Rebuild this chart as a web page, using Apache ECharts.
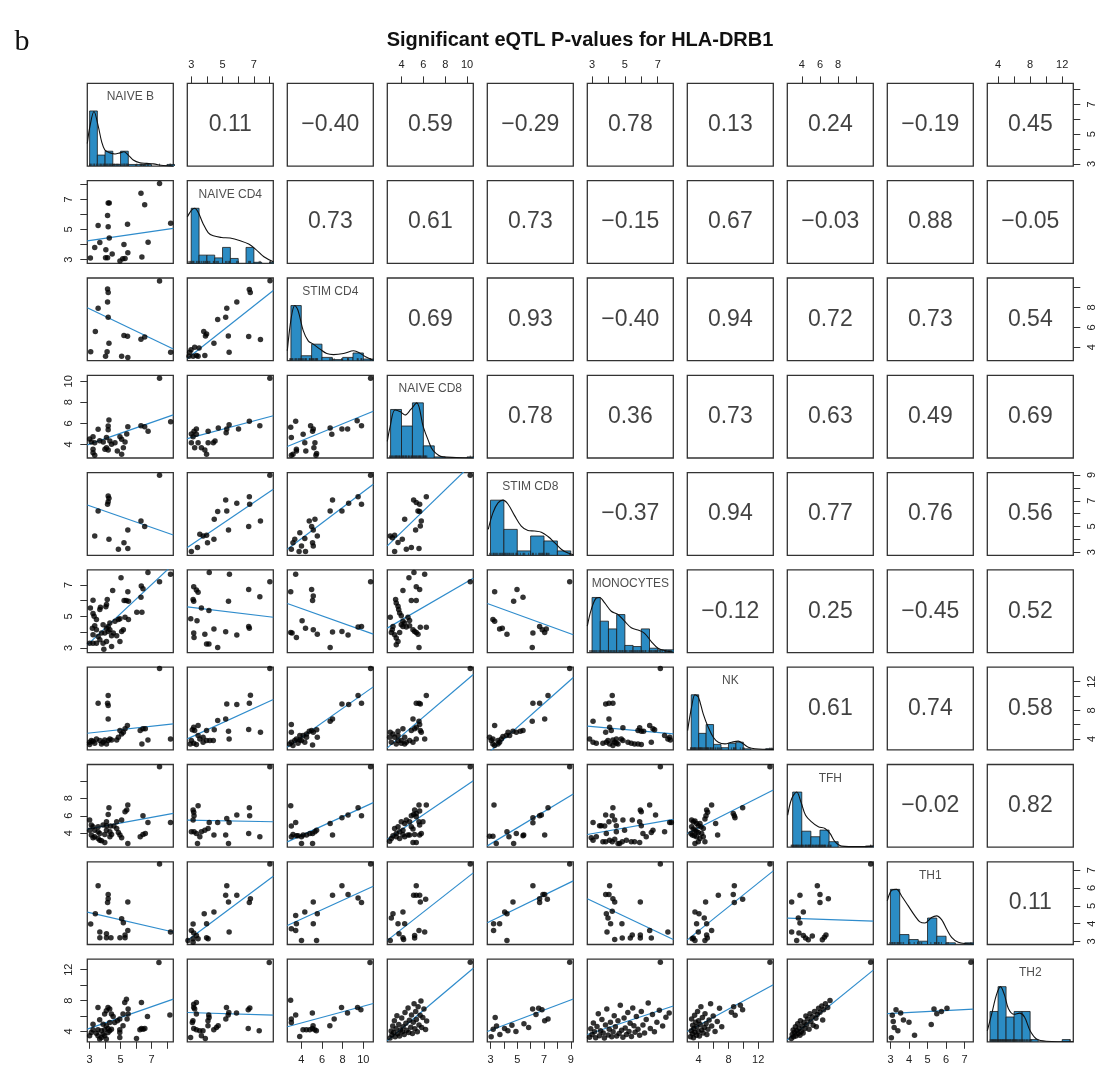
<!DOCTYPE html>
<html><head><meta charset="utf-8">
<script src="https://cdn.jsdelivr.net/npm/echarts@6/dist/echarts.min.js"></script>
<style>html,body{margin:0;padding:0;background:#fff}#c{width:1107px;height:1069px}</style>
</head><body><div id="c"></div>
<script>
const VARS = ['NAIVE B','NAIVE CD4','STIM CD4','NAIVE CD8','STIM CD8','MONOCYTES','NK','TFH','TH1','TH2'];
const AXIS_MIN = [2.85,2.75,2.65,2.70,2.76,2.71,2.47,2.41,2.83,2.66];
const AXIS_MAX = [8.41,8.24,10.96,10.57,9.19,7.95,14.03,11.86,7.47,13.38];
const TICKS = [[3,4,5,6,7,8],[3,4,5,6,7,8],[4,6,8,10],[4,6,8,10],[3,4,5,6,7,8,9],[3,4,5,6,7,8],[4,6,8,10,12],[4,6,8,10,12],[3,4,5,6,7],[4,6,8,10,12]];
const LABELS_H = [[3,5,7],[3,5,7],[4,6,8,10],[4,6,8,10],[3,5,7,9],[3,5,7],[4,8,12],[4,6,8,12],[3,4,5,6,7],[4,8,12]];
const LABELS_V = [[3,5,7],[3,5,7],[4,6,8],[4,6,8,10],[3,5,7,9],[3,5,7],[4,8,12],[4,6,8,12],[3,4,5,6,7],[4,8,12]];

// correlations, upper triangle, row by row
const CORR = [
  [0.11,-0.40,0.59,-0.29,0.78,0.13,0.24,-0.19,0.45],
  [0.73,0.61,0.73,-0.15,0.67,-0.03,0.88,-0.05],
  [0.69,0.93,-0.40,0.94,0.72,0.73,0.54],
  [0.78,0.36,0.73,0.63,0.49,0.69],
  [-0.37,0.94,0.77,0.76,0.56],
  [-0.12,0.25,-0.45,0.52],
  [0.61,0.74,0.58],
  [-0.02,0.82],
  [0.11]
];

// fitted lines of the lower panels: [y at left edge, y at right edge], one row at a time
const LINE_R2 = [[4.25,5.08]];
const LINE_R3 = [[7.97,3.83],[2.88,9.71]];
const LINE_R4 = [[3.95,6.80],[4.55,6.72],[3.80,7.15]];
const LINE_R5 = [[6.67,4.34],[3.36,7.89],[3.23,8.28],[3.49,9.97]];
const LINE_R6 = [[3.20,8.31],[5.61,4.95],[5.82,3.88],[4.26,7.42],[5.82,3.84]];
const LINE_R7 = [[4.80,6.10],[4.01,9.51],[2.84,11.28],[2.75,13.0],[1.91,12.6],[5.78,4.71]];
const LINE_R8 = [[4.48,6.27],[5.51,5.32],[3.02,7.50],[3.33,9.99],[2.56,8.49],[3.86,5.59],[3.98,8.95]];
const LINE_R9 = [[4.65,3.53],[3.06,6.66],[3.90,6.10],[3.06,6.85],[4.05,6.40],[5.40,3.11],[3.09,6.96],[4.31,4.14]];
const LINE_R10 = [[4.30,8.19],[6.46,6.12],[4.61,7.63],[2.80,12.20],[4.00,8.20],[3.60,7.30],[4.00,10.05],[2.90,11.95],[6.30,6.90]];

// histogram: first break, bin width, relative heights
const HIST_START = [3,3,3,3,3,3,3,3,3,3];
const HIST_STEP = [0.5,0.5,1,1,1,0.5,1,1,0.5,1];
const H0 = [1.0,0.20,0.27,0.03,0.27,0.03,0.03,0.03,0,0,0.03];
const H1 = [1.0,0.15,0.15,0.10,0.29,0.09,0,0.29,0.02,0,0.02];
const H2 = [1.0,0.09,0.30,0.06,0.02,0.06,0.14,0.03];
const H3 = [0.88,0.58,1.0,0.22,0.02,0,0,0.02];
const H4 = [1.0,0.47,0.08,0.35,0.26,0.08];
const H5 = [1.0,0.57,0.43,0.69,0.13,0.11,0.43,0.08,0.05,0.05];
const H6 = [1.0,0.30,0.46,0.10,0.04,0.12,0.14,0.02,0,0,0.02];
const H7 = [1.0,0.29,0.19,0.31,0.10,0,0,0,0.02];
const H8 = [1.0,0.18,0.09,0.06,0.48,0.15,0.03,0,0.03];
const H9 = [0.55,1.0,0.45,0.55,0.55,0.04,0,0,0,0.04];

// density curves (x, relative height)
const DX0 = [2.85,3.02,3.28,3.56,3.78,3.99,4.32,4.64,4.96,5.22,5.50,5.82,6.25,6.69,7.12,7.76,8.41];
const DY0 = [0.41,0.72,0.99,0.72,0.44,0.29,0.24,0.22,0.24,0.26,0.20,0.11,0.06,0.05,0.04,0.01,0.0];
const DX1 = [2.75,3.01,3.22,3.44,3.76,4.08,4.41,4.95,5.48,6.13,6.67,7.10,7.64,8.24];
const DY1 = [0.84,0.96,1.0,0.93,0.72,0.56,0.50,0.47,0.46,0.41,0.35,0.26,0.12,0.03];
const DX2 = [2.65,3.04,3.37,3.69,4.18,4.67,5.16,5.81,6.46,7.12,8.09,9.07,9.56,10.21,10.96];
const DY2 = [0.18,0.79,1.0,0.91,0.55,0.36,0.30,0.21,0.13,0.11,0.13,0.18,0.15,0.07,0.01];
const DX3 = [2.70,2.95,3.40,3.90,4.32,4.85,5.39,6.00,6.45,6.88,7.80,9.0,10.57];
const DY3 = [0.30,0.56,0.87,0.84,0.78,0.88,1.0,0.56,0.32,0.14,0.02,0.01,0.0];
const DX4 = [2.83,3.18,3.56,3.93,4.30,4.80,5.30,5.80,6.30,6.80,7.30,7.79,8.29,8.79,9.19];
const DY4 = [0.47,0.77,0.95,1.0,0.93,0.72,0.53,0.45,0.44,0.42,0.34,0.23,0.11,0.04,0.01];
const DX5 = [2.71,2.95,3.26,3.46,3.77,4.17,4.58,4.98,5.39,5.80,6.20,6.61,7.02,7.52,7.95];
const DY5 = [0.48,0.78,0.99,1.0,0.90,0.75,0.69,0.57,0.45,0.41,0.35,0.20,0.08,0.03,0.01];
const DX6 = [2.51,3.05,3.50,3.95,4.62,5.29,5.96,6.64,7.53,8.43,9.32,9.99,10.67,11.56,14.03];
const DY6 = [0.35,0.78,1.0,0.96,0.65,0.41,0.23,0.14,0.11,0.14,0.16,0.11,0.05,0.02,0.01];
const DX7 = [2.45,2.89,3.44,3.91,4.42,5.08,5.82,6.55,7.10,7.65,8.38,10.21,11.86];
const DY7 = [0.58,0.88,1.0,0.82,0.58,0.46,0.37,0.34,0.25,0.10,0.02,0.01,0.02];
const DX8 = [2.83,3.06,3.33,3.60,3.96,4.32,4.59,4.86,5.22,5.49,5.76,6.03,6.30,6.66,7.47];
const DY8 = [0.79,0.98,1.0,0.88,0.70,0.52,0.41,0.39,0.49,0.52,0.45,0.28,0.13,0.04,0.01];
const DX9 = [2.66,3.2,3.8,4.3,4.8,5.3,6.0,6.7,7.3,8.0,8.8,10,13.38];
const DY9 = [0.2,0.5,0.85,1.0,0.85,0.6,0.5,0.52,0.45,0.2,0.05,0.01,0];

// scatter panels: P<row>_<col>, x = column variable, y = row variable
const P2_1 = [[7.52,8.06],[6.32,7.41],[6.56,6.65],[4.20,6.76],[4.27,6.76],[4.16,5.93],[3.55,5.26],[4.20,5.19],[5.45,5.35],[8.24,5.42],[4.27,4.43],[3.66,4.14],[3.33,3.80],[6.78,4.16],[5.22,4.01],[4.05,3.65],[3.05,3.11],[4.03,3.13],[4.16,3.13],[4.46,3.38],[5.47,3.45],[4.96,2.91],[5.14,3.06],[5.29,3.08],[6.38,3.18]];
const P3_1 = [[7.52,10.66],[4.16,9.85],[4.20,9.51],[4.16,8.54],[3.55,7.93],[4.20,7.02],[3.37,5.58],[5.22,5.18],[5.45,5.11],[6.32,4.80],[6.56,5.04],[4.25,4.40],[3.07,3.56],[4.13,3.56],[4.03,3.09],[5.07,3.09],[5.47,2.98],[8.24,3.49]];
const P3_2 = [[8.03,10.69],[6.71,9.81],[6.77,9.51],[5.91,8.54],[5.27,7.93],[5.20,7.02],[4.69,6.79],[3.80,5.58],[3.98,5.34],[3.91,5.14],[5.37,5.14],[4.45,4.40],[6.67,5.07],[7.42,4.77],[5.42,3.49],[2.99,3.76],[3.22,4.00],[2.90,3.49],[3.50,3.93],[3.33,3.16],[3.12,3.09],[3.44,3.09],[3.87,3.16],[2.86,3.09]];
const P4_1 = [[7.52,10.29],[8.24,6.16],[4.25,6.32],[3.55,5.43],[4.20,5.75],[4.20,5.40],[5.47,5.68],[6.32,5.78],[6.56,5.68],[6.78,5.24],[3.22,4.73],[3.11,4.23],[3.33,4.16],[4.31,4.32],[4.09,4.64],[5.07,4.48],[5.29,4.23],[4.96,4.73],[3.22,3.53],[4.09,3.68],[4.42,4.00],[4.79,3.37],[5.07,3.05],[3.22,3.21],[3.33,2.95],[4.64,4.16],[3.88,4.23],[3.99,3.53],[4.20,3.46],[5.18,3.68],[3.00,4.50],[3.65,4.35],[5.40,4.98]];
const P4_2 = [[8.02,10.28],[6.71,6.19],[7.38,5.78],[6.02,5.46],[5.42,5.87],[5.27,5.46],[4.73,5.56],[4.08,5.24],[3.18,5.24],[3.33,5.46],[3.01,4.98],[3.12,4.73],[3.33,4.95],[3.01,4.16],[3.44,4.16],[3.65,3.68],[3.87,3.46],[3.98,3.05],[4.08,4.16],[4.41,4.16],[4.52,4.32],[5.23,5.11],[3.22,3.68]];
const P4_3 = [[10.70,10.28],[3.46,6.19],[2.98,5.62],[4.90,5.78],[5.16,5.46],[5.09,5.24],[6.79,5.56],[7.93,5.46],[8.48,5.46],[9.40,6.25],[9.82,5.78],[3.04,4.64],[4.18,4.95],[3.53,3.53],[3.20,3.05],[3.04,2.95],[3.53,3.37],[4.44,3.37],[5.32,4.16],[5.22,3.68],[5.48,3.14],[5.42,2.95],[6.95,4.95],[4.34,4.16]];
const P5_1 = [[7.52,8.98],[4.20,7.38],[4.25,7.19],[4.20,6.93],[4.16,6.73],[3.55,6.21],[3.33,4.26],[4.25,4.01],[4.86,3.23],[5.22,3.74],[5.47,3.28],[5.47,4.73],[6.32,5.43],[6.56,4.99]];
const P5_2 = [[8.02,8.98],[6.71,7.32],[6.73,6.73],[5.91,6.80],[5.20,7.06],[5.27,6.21],[4.69,6.16],[4.47,5.56],[5.38,4.73],[6.67,4.99],[7.42,5.43],[4.45,4.01],[3.55,4.39],[3.76,4.26],[3.98,4.32],[4.04,3.74],[3.40,3.36],[3.01,3.05]];
const P5_3 = [[10.70,8.98],[7.02,7.06],[6.79,6.21],[7.93,6.21],[8.58,6.80],[9.49,7.32],[9.82,6.73],[4.77,5.43],[5.32,5.56],[5.00,4.99],[5.16,4.73],[5.55,4.26],[3.86,4.52],[3.37,4.01],[3.20,3.74],[3.04,3.23],[3.79,3.05],[4.41,3.05],[4.02,3.49],[5.16,3.49],[5.09,3.74],[4.34,4.06]];
const P5_4 = [[10.29,8.98],[5.11,7.06],[5.35,6.86],[5.66,6.73],[6.27,7.32],[5.51,6.21],[5.66,6.16],[5.81,5.43],[5.72,5.04],[5.29,4.73],[4.29,5.56],[2.97,4.26],[3.16,4.13],[3.37,4.32],[3.68,3.75],[4.07,4.00],[4.44,3.23],[4.90,3.36],[5.60,3.28],[3.37,3.05]];
const P6_1 = [[6.77,7.78],[8.23,7.67],[5.03,7.46],[7.52,7.20],[6.34,6.93],[6.45,6.76],[4.49,6.65],[5.47,6.57],[4.14,6.08],[3.22,6.03],[5.23,6.01],[5.36,6.01],[5.51,5.97],[6.32,6.22],[3.05,5.54],[3.70,5.59],[4.05,5.61],[4.09,5.76],[3.66,5.44],[3.22,5.18],[3.29,5.01],[6.05,5.27],[6.38,5.27],[5.29,4.95],[4.96,4.86],[4.86,4.80],[3.44,4.80],[4.64,4.69],[5.18,4.16],[5.07,4.05],[3.18,4.26],[3.33,4.41],[3.44,4.16],[3.87,4.48],[4.09,4.26],[4.20,4.37],[4.31,4.58],[3.77,3.95],[3.98,3.95],[4.20,4.05],[4.42,3.78],[4.75,3.78],[4.96,3.41],[3.22,3.31],[3.44,3.31],[3.87,3.31],[4.09,3.41],[3.92,2.92],[4.42,3.09],[3.66,3.52],[3.00,3.31],[3.55,3.73],[3.22,3.84],[4.31,4.16],[4.53,3.95],[5.51,4.80]];
const P6_2 = [[4.15,7.78],[5.44,7.67],[8.02,7.20],[3.16,6.89],[3.33,6.67],[3.44,6.54],[3.12,6.08],[3.16,5.97],[3.65,5.54],[4.13,5.37],[5.38,5.97],[6.67,6.71],[7.38,6.25],[2.97,4.86],[3.37,4.73],[3.16,3.95],[3.18,3.67],[3.87,3.88],[4.45,4.20],[3.98,3.26],[4.13,3.26],[4.69,3.03],[5.20,4.03],[5.91,3.82],[6.67,4.37],[6.71,4.26]];
const P6_3 = [[3.46,7.67],[2.98,6.57],[5.00,6.71],[5.16,6.29],[5.09,6.01],[10.70,7.20],[4.08,4.73],[4.41,4.26],[2.98,3.99],[3.11,3.95],[3.53,3.67],[5.16,4.16],[5.55,3.88],[7.02,4.01],[7.93,4.05],[8.52,3.82],[6.79,3.03],[9.49,4.33],[9.82,4.37]];
const P6_4 = [[5.14,7.78],[4.68,7.46],[6.12,7.67],[5.35,6.88],[5.66,6.71],[4.13,6.65],[5.35,6.01],[4.90,6.01],[3.46,6.08],[3.52,5.86],[3.68,5.65],[3.74,5.44],[3.83,5.22],[3.98,5.05],[2.97,4.95],[4.59,4.95],[4.74,4.75],[4.29,4.58],[3.98,4.48],[4.13,4.37],[4.44,4.33],[4.74,4.41],[5.05,4.16],[5.35,3.99],[5.51,3.88],[6.27,4.31],[5.72,4.31],[3.16,4.16],[3.07,3.99],[3.37,3.84],[3.52,3.63],[3.68,3.41],[3.52,3.20],[5.60,3.03],[10.29,7.20],[3.83,3.99],[3.22,4.37],[4.13,4.69],[5.20,4.05]];
const P6_5 = [[3.31,6.57],[4.98,6.71],[4.73,5.97],[5.43,6.22],[8.92,7.20],[3.18,4.80],[3.31,4.69],[3.68,4.20],[3.88,4.26],[4.23,3.88],[6.17,3.95],[6.67,4.37],[6.87,4.16],[7.05,3.99],[7.17,4.20],[6.12,3.03]];
const P7_1 = [[7.52,13.84],[3.55,9.0],[4.20,10.07],[4.16,9.0],[4.20,8.67],[4.20,6.80],[5.44,5.87],[5.29,5.41],[5.18,4.94],[5.07,4.71],[4.86,4.24],[4.75,3.87],[6.27,5.17],[6.45,5.41],[6.60,5.41],[6.77,3.87],[8.23,4.01],[6.38,3.31],[3.00,3.54],[3.11,3.77],[3.22,3.68],[3.44,4.01],[3.66,3.77],[3.87,3.54],[4.09,3.31],[4.20,3.77],[4.31,4.01],[4.42,3.87],[3.00,3.22],[3.98,3.87],[3.77,3.31],[3.33,3.40],[4.96,5.17]];
const P7_2 = [[8.02,13.84],[6.78,10.11],[5.27,8.90],[5.91,8.81],[6.71,9.0],[5.20,6.80],[4.69,6.57],[4.47,5.27],[3.98,5.17],[3.44,5.87],[3.16,5.64],[3.07,5.27],[3.22,5.17],[3.44,4.47],[3.76,4.24],[3.98,3.77],[4.19,3.77],[4.41,3.77],[5.38,5.08],[5.42,4.01],[6.67,5.31],[7.42,4.94],[3.01,3.77],[3.16,3.40],[2.94,3.31],[3.33,3.22],[3.76,3.54],[3.55,4.01]];
const P7_3 = [[10.70,13.84],[9.49,10.07],[9.82,9.0],[7.93,8.90],[8.58,8.81],[7.02,6.80],[6.79,6.48],[5.49,5.27],[5.00,5.17],[5.16,4.94],[4.77,5.08],[4.51,4.71],[4.18,4.47],[3.86,4.47],[3.53,4.01],[3.37,3.77],[3.04,3.54],[2.88,3.31],[3.20,3.08],[3.69,3.40],[4.02,3.77],[4.51,4.24],[5.09,3.17],[5.55,4.24],[3.04,6.01],[3.04,4.94],[3.86,3.87],[4.34,3.54]];
const P7_4 = [[6.27,10.07],[5.35,9.0],[5.60,9.0],[5.72,8.90],[5.05,6.80],[5.60,6.48],[5.66,6.01],[5.35,5.64],[5.20,5.41],[4.90,5.17],[4.13,5.41],[3.68,5.08],[2.97,4.94],[3.22,4.71],[2.91,4.24],[3.37,4.24],[3.68,3.77],[3.98,3.77],[4.29,4.24],[4.44,3.54],[4.74,3.77],[5.05,3.54],[5.35,4.01],[5.72,5.17],[5.81,4.94],[6.12,4.01],[3.07,3.54],[3.52,3.31],[3.98,3.40],[4.29,3.31],[10.29,13.84],[3.68,4.47]];
const P7_5 = [[8.92,13.84],[7.30,10.07],[6.17,9.0],[6.67,9.0],[7.05,6.80],[6.12,6.48],[5.43,5.17],[5.23,5.08],[4.93,4.94],[4.68,5.08],[4.31,4.94],[4.18,4.47],[3.93,4.33],[3.81,4.01],[3.56,3.77],[3.18,4.01],[2.93,4.24],[3.31,5.87],[3.06,3.77],[3.18,3.31],[3.31,3.08],[3.56,3.31],[3.68,3.54],[4.43,4.47]];
const P7_6 = [[3.83,8.90],[4.03,9.0],[4.27,9.0],[4.23,10.07],[3.06,6.48],[4.03,6.80],[4.88,5.55],[5.90,5.55],[6.00,5.08],[6.14,5.08],[6.51,5.87],[6.71,5.41],[6.81,5.27],[5.80,5.17],[3.83,4.94],[4.07,5.64],[4.17,5.17],[2.85,4.01],[3.06,3.54],[3.26,3.40],[3.66,3.40],[3.87,3.54],[3.97,3.77],[4.27,3.87],[4.48,4.01],[4.38,3.54],[4.78,4.01],[4.88,3.77],[5.19,3.54],[5.39,3.40],[5.59,3.31],[5.80,3.31],[6.00,3.22],[6.61,3.54],[7.42,4.47],[7.62,4.01],[7.73,4.24],[7.77,3.87],[4.48,3.40],[4.58,3.31],[4.27,3.08],[4.07,3.31],[7.16,13.84]];
const P8_1 = [[7.52,11.59],[4.25,6.92],[5.47,7.23],[5.40,6.66],[5.29,6.47],[6.45,6.01],[5.07,5.51],[4.75,5.32],[4.09,5.32],[4.20,6.16],[3.55,4.74],[3.87,4.94],[4.09,4.86],[4.35,4.82],[4.57,4.82],[3.00,5.51],[3.11,4.94],[3.22,4.74],[3.33,4.36],[3.55,4.17],[3.66,3.98],[3.33,3.60],[3.55,3.40],[3.77,3.14],[3.98,2.95],[3.11,3.79],[3.22,3.48],[4.09,4.36],[4.31,4.17],[4.42,3.86],[4.86,4.09],[4.96,3.79],[5.07,3.48],[5.47,2.83],[6.27,3.60],[6.45,3.86],[6.60,3.98],[6.77,5.24],[8.23,5.24],[4.75,4.55],[3.98,3.86],[3.00,4.36],[4.31,3.60],[3.66,3.21]];
const P8_2 = [[8.02,11.59],[3.44,7.15],[3.12,6.66],[3.16,6.39],[3.18,6.01],[3.12,5.51],[4.15,5.24],[4.69,5.24],[5.27,5.70],[5.42,5.24],[5.91,6.08],[6.71,6.92],[6.73,6.01],[3.01,4.17],[3.18,4.17],[3.33,3.98],[3.55,3.60],[3.65,4.17],[3.87,4.36],[4.08,4.55],[4.45,3.79],[3.40,2.83],[5.20,3.79],[5.38,2.83],[6.67,3.98],[7.38,3.60]];
const P8_3 = [[10.70,11.59],[2.98,7.15],[3.04,4.82],[3.46,5.24],[3.53,3.71],[3.69,3.71],[4.02,3.60],[4.18,3.79],[4.51,3.79],[4.83,3.98],[5.09,3.98],[5.32,4.17],[5.48,4.36],[6.79,5.13],[7.02,3.79],[7.93,5.78],[8.52,6.08],[9.49,6.92],[9.82,6.01],[4.02,2.83],[5.09,2.83],[3.04,3.60],[3.20,3.86]];
const P8_4 = [[10.29,11.59],[6.27,7.23],[5.60,7.23],[5.20,6.66],[5.66,6.54],[5.35,6.27],[5.11,6.16],[4.90,6.01],[5.35,5.89],[5.96,5.32],[5.60,5.32],[5.66,4.94],[5.81,3.98],[5.66,3.79],[5.20,3.86],[5.05,2.95],[5.35,2.95],[4.74,3.79],[4.59,3.79],[4.29,3.60],[4.13,3.86],[3.83,4.17],[3.52,3.98],[3.22,3.71],[3.07,3.40],[2.91,3.10],[3.37,4.55],[3.68,4.74],[3.98,5.32],[4.29,5.13],[4.44,5.51],[4.74,5.32],[3.52,3.60],[3.83,3.40],[4.13,4.36],[4.90,4.74],[5.05,4.48]];
const P8_5 = [[8.92,11.59],[3.26,7.23],[2.93,3.67],[3.18,3.67],[3.43,2.83],[4.23,4.17],[4.38,3.60],[4.73,2.83],[4.93,3.98],[5.43,3.71],[5.48,3.79],[6.17,5.78],[6.17,5.20],[6.67,6.01],[6.80,6.08],[7.30,6.92],[7.05,3.79]];
const P8_6 = [[7.16,11.59],[4.27,6.92],[6.51,7.23],[5.94,6.66],[6.00,6.47],[3.83,6.08],[4.23,6.01],[3.06,5.24],[3.46,4.86],[3.56,4.86],[3.77,4.82],[4.03,5.32],[4.38,5.51],[4.48,4.86],[4.88,5.51],[5.45,5.51],[5.90,5.32],[6.00,4.86],[6.71,4.36],[6.87,6.08],[7.42,4.17],[7.73,5.24],[7.83,5.24],[2.95,3.48],[3.06,3.21],[3.26,3.60],[3.66,3.02],[3.83,3.02],[4.07,3.21],[4.23,3.02],[4.38,3.33],[4.58,2.83],[4.68,2.83],[4.84,3.02],[5.09,3.21],[5.39,3.02],[5.59,3.02],[5.90,2.95],[6.30,3.60],[6.61,4.09],[6.10,3.98],[3.87,3.98],[4.98,4.36],[4.48,4.17]];
const P8_7 = [[13.58,11.59],[5.74,7.23],[5.07,6.66],[5.20,6.39],[4.98,6.01],[6.28,5.13],[8.65,6.27],[8.79,6.01],[8.88,5.78],[9.91,6.92],[6.55,3.79],[3.05,5.51],[3.28,5.32],[3.50,5.39],[3.72,5.13],[3.95,4.86],[3.05,4.74],[3.28,4.48],[3.50,4.36],[3.72,4.17],[3.95,4.09],[2.96,3.98],[3.14,3.79],[3.41,3.71],[3.72,3.60],[4.17,3.40],[4.62,3.60],[4.84,3.02],[3.95,3.02],[3.50,2.83],[4.40,3.98],[4.62,4.55],[4.31,4.74],[4.17,5.13],[4.84,5.62]];
const P9_1 = [[7.52,7.34],[3.55,6.12],[4.20,5.63],[4.20,5.40],[4.16,5.18],[4.25,4.65],[3.37,4.56],[3.07,3.98],[3.66,3.53],[4.09,3.43],[3.66,3.21],[4.09,3.21],[4.38,3.21],[4.96,3.21],[5.29,3.21],[5.29,3.37],[5.07,4.28],[5.18,4.05],[5.47,3.62],[5.47,5.22],[8.23,3.53]];
const P9_2 = [[8.02,7.34],[5.27,6.12],[5.20,5.59],[5.91,5.59],[5.38,5.22],[6.78,5.40],[6.71,5.18],[4.45,4.65],[3.83,4.56],[3.98,3.99],[3.12,3.98],[3.01,3.62],[3.16,3.47],[3.33,3.34],[3.44,3.15],[2.79,3.06],[3.12,3.15],[5.42,3.53],[3.98,3.21],[4.08,3.15],[3.12,2.96]];
const P9_3 = [[10.70,7.34],[7.93,6.12],[7.02,5.59],[8.52,5.63],[9.49,5.44],[9.82,5.18],[5.16,5.22],[4.34,4.65],[3.46,4.46],[3.53,3.99],[3.04,3.71],[3.46,3.62],[5.16,3.99],[5.55,4.56],[4.02,3.06],[5.48,3.06]];
const P9_4 = [[10.29,7.34],[5.35,6.12],[5.11,5.59],[5.35,5.59],[5.66,5.59],[5.72,5.22],[6.21,5.37],[4.13,4.65],[3.22,4.56],[3.07,4.31],[3.68,3.99],[4.29,3.99],[2.97,3.06],[3.77,3.43],[4.13,3.21],[4.19,3.11],[5.20,3.34],[5.20,3.19],[5.60,3.62],[6.12,3.53]];
const P9_5 = [[8.92,7.34],[6.17,6.12],[4.68,5.22],[4.06,4.65],[4.23,4.56],[3.23,3.99],[3.68,3.99],[3.23,3.62],[4.23,3.06],[6.67,5.40],[6.92,5.63],[7.05,5.63],[7.25,5.37],[6.67,5.18]];
const P9_6 = [[7.16,7.34],[4.07,6.12],[3.83,5.63],[4.03,5.63],[4.27,5.40],[4.38,5.22],[4.23,4.69],[3.87,4.56],[3.97,4.31],[4.13,3.99],[3.91,3.53],[4.82,3.99],[5.94,5.22],[4.38,3.11],[4.84,3.19],[5.33,3.19],[5.45,3.37],[5.94,3.37],[5.94,3.19],[6.61,3.19],[6.51,3.62],[7.62,3.53]];
const P9_7 = [[13.58,7.34],[8.79,6.12],[8.65,5.63],[6.64,5.59],[9.91,5.37],[8.79,5.18],[4.93,5.22],[3.50,4.65],[4.04,4.56],[4.75,4.31],[3.72,3.99],[5.07,3.99],[3.95,3.53],[5.74,3.62],[5.07,3.37],[5.16,3.19],[3.28,3.19],[3.50,3.06],[3.14,3.15],[4.84,3.06]];
const P9_8 = [[11.57,7.34],[5.71,6.12],[3.80,5.59],[6.00,5.63],[6.92,5.40],[6.00,5.18],[2.89,5.22],[4.17,4.65],[3.62,4.31],[3.80,4.03],[2.89,3.53],[3.69,3.47],[4.17,3.34],[4.42,3.19],[4.72,3.09],[5.16,3.30],[6.26,3.09],[6.48,3.24],[6.66,3.37],[3.44,3.06]];
const P10_1 = [[7.48,12.95],[3.00,3.44],[3.22,4.22],[3.11,3.87],[3.22,4.95],[3.54,7.11],[3.65,5.51],[3.54,4.22],[3.43,3.78],[3.54,3.44],[3.76,3.22],[3.65,3.01],[3.87,3.65],[3.97,4.22],[4.08,4.73],[4.19,4.39],[4.30,4.09],[4.41,4.30],[4.19,3.87],[3.97,3.44],[4.08,3.01],[3.87,4.95],[3.97,6.25],[4.08,6.68],[4.19,7.11],[4.30,6.90],[4.41,6.25],[4.52,5.95],[4.62,5.17],[4.95,4.22],[4.95,3.87],[4.95,3.22],[4.80,5.38],[4.95,5.60],[5.16,6.25],[5.27,7.76],[5.38,8.19],[5.49,6.90],[5.49,6.25],[5.16,4.73],[5.42,5.60],[6.03,3.09],[6.25,4.22],[6.35,4.39],[6.46,4.30],[6.57,4.39],[6.35,7.76],[6.74,5.95],[8.19,6.12],[4.30,5.17],[3.76,4.09]];
const P10_2 = [[7.98,12.95],[3.16,7.54],[3.33,7.76],[3.16,7.11],[3.22,6.90],[3.11,5.38],[3.07,5.17],[3.33,6.25],[2.96,3.22],[3.16,4.39],[3.33,4.22],[3.54,4.09],[3.75,4.09],[3.65,3.44],[3.90,3.09],[4.07,4.73],[4.07,5.38],[4.14,5.82],[4.12,6.12],[4.44,4.22],[4.61,4.52],[4.72,4.73],[5.21,5.60],[5.25,7.11],[5.40,6.46],[5.36,6.12],[5.89,6.38],[6.64,6.81],[6.74,7.03],[6.64,4.39],[7.34,4.09]];
const P10_3 = [[10.64,12.95],[2.97,8.06],[3.04,5.60],[3.04,5.17],[3.46,6.12],[3.85,3.35],[4.17,4.22],[4.49,4.22],[4.82,4.22],[5.07,4.39],[5.07,6.38],[5.30,4.22],[5.46,4.09],[6.76,4.73],[7.18,5.60],[7.89,7.11],[8.47,6.38],[9.44,7.11],[9.76,6.81],[5.14,4.73]];
const P10_4 = [[10.29,12.97],[2.95,3.15],[3.05,4.05],[3.12,3.55],[3.20,4.70],[3.28,3.85],[3.35,5.40],[3.42,3.30],[3.50,4.35],[3.58,6.05],[3.66,3.70],[3.75,4.90],[3.82,3.40],[3.90,4.20],[4.02,5.75],[4.08,3.95],[4.15,4.60],[4.25,3.60],[4.32,6.45],[4.40,5.05],[4.48,4.15],[4.60,7.05],[4.66,3.85],[4.72,5.45],[4.85,4.55],[4.92,6.15],[5.00,3.75],[5.08,5.20],[5.15,7.60],[5.22,4.35],[5.30,6.60],[5.36,5.55],[5.45,3.95],[5.52,7.20],[5.60,4.85],[5.70,6.10],[5.78,7.95],[5.85,4.50],[5.95,5.80],[6.05,6.90],[6.20,4.25],[6.30,5.35]];
const P10_5 = [[8.92,12.97],[3.05,3.30],[3.20,4.30],[3.45,4.70],[3.70,3.60],[4.05,4.40],[4.30,4.10],[4.60,4.80],[4.90,4.00],[5.50,5.00],[6.15,6.90],[6.40,6.20],[6.60,7.00],[6.85,6.80],[7.05,5.40],[7.30,5.60],[3.35,5.80],[5.85,4.50]];
const P10_6 = [[7.16,12.97],[2.85,3.25],[2.92,4.35],[3.00,3.60],[3.08,5.10],[3.15,3.95],[3.22,3.20],[3.30,4.65],[3.38,6.30],[3.45,3.45],[3.52,4.10],[3.60,5.55],[3.68,3.80],[3.75,3.15],[3.82,4.85],[3.90,6.90],[3.98,3.55],[4.05,4.30],[4.12,5.20],[4.20,3.30],[4.28,3.95],[4.35,6.05],[4.42,4.60],[4.50,3.40],[4.58,5.40],[4.65,3.75],[4.72,7.40],[4.80,4.15],[4.88,3.25],[4.95,5.75],[5.02,4.45],[5.10,3.60],[5.18,6.45],[5.25,4.00],[5.32,5.05],[5.40,3.35],[5.48,7.05],[5.55,4.75],[5.62,3.90],[5.70,5.95],[5.80,4.30],[5.90,3.50],[6.00,6.60],[6.10,4.85],[6.20,3.80],[6.30,5.55],[6.42,7.70],[6.55,4.40],[6.68,6.20],[6.80,3.95],[6.95,5.20],[7.10,6.75],[7.30,4.70],[7.50,5.85],[7.70,6.40]];
const P10_7 = [[13.58,12.97],[2.90,3.30],[3.00,4.10],[3.05,5.60],[3.15,3.70],[3.20,4.80],[3.30,3.20],[3.35,4.40],[3.45,6.10],[3.50,3.90],[3.60,5.20],[3.70,3.50],[3.75,4.60],[3.85,6.60],[3.95,4.00],[4.00,5.40],[4.10,3.40],[4.20,4.90],[4.30,7.20],[4.40,4.20],[4.50,5.80],[4.60,3.80],[4.75,4.50],[4.85,6.30],[5.00,5.00],[5.10,3.60],[5.25,4.30],[5.40,5.50],[5.60,7.60],[5.75,4.70],[5.95,6.00],[6.20,4.00],[6.50,5.30],[6.80,7.00],[7.10,4.60],[8.40,6.50],[8.70,7.20],[8.90,6.10],[9.60,7.40],[9.90,6.80]];
const P10_8 = [[11.57,12.97],[2.85,3.10],[2.95,3.60],[3.05,4.20],[3.10,3.30],[3.20,3.90],[3.30,4.60],[3.35,3.40],[3.45,4.10],[3.55,5.00],[3.60,3.70],[3.70,4.40],[3.80,3.50],[3.85,5.40],[3.95,4.00],[4.05,4.70],[4.15,3.80],[4.25,5.20],[4.35,4.40],[4.45,6.00],[4.55,4.90],[4.65,5.60],[4.80,4.30],[4.90,6.30],[5.00,5.30],[5.15,5.90],[5.25,4.80],[5.40,6.60],[5.55,5.70],[5.70,6.20],[5.85,7.00],[6.00,6.50],[6.20,7.30],[6.40,6.80],[6.60,7.60],[6.85,7.10],[7.10,8.00],[5.60,4.60],[6.30,5.50]];
const P10_9 = [[7.34,12.97],[3.05,3.20],[3.10,6.10],[3.15,5.30],[3.20,4.50],[3.30,6.80],[3.40,4.10],[3.55,6.40],[3.70,5.50],[4.00,5.20],[4.30,3.50],[5.20,4.90],[5.35,6.90],[5.50,6.30],[5.75,6.60],[6.05,7.00]];

const LOWER = {
 '2_1':P2_1,'3_1':P3_1,'3_2':P3_2,'4_1':P4_1,'4_2':P4_2,'4_3':P4_3,
 '5_1':P5_1,'5_2':P5_2,'5_3':P5_3,'5_4':P5_4,
 '6_1':P6_1,'6_2':P6_2,'6_3':P6_3,'6_4':P6_4,'6_5':P6_5,
 '7_1':P7_1,'7_2':P7_2,'7_3':P7_3,'7_4':P7_4,'7_5':P7_5,'7_6':P7_6,
 '8_1':P8_1,'8_2':P8_2,'8_3':P8_3,'8_4':P8_4,'8_5':P8_5,'8_6':P8_6,'8_7':P8_7,
 '9_1':P9_1,'9_2':P9_2,'9_3':P9_3,'9_4':P9_4,'9_5':P9_5,'9_6':P9_6,'9_7':P9_7,'9_8':P9_8,
 '10_1':P10_1,'10_2':P10_2,'10_3':P10_3,'10_4':P10_4,'10_5':P10_5,'10_6':P10_6,'10_7':P10_7,'10_8':P10_8,'10_9':P10_9
};
const LINES = [null, LINE_R2, LINE_R3, LINE_R4, LINE_R5, LINE_R6, LINE_R7, LINE_R8, LINE_R9, LINE_R10];
const HISTS = [H0,H1,H2,H3,H4,H5,H6,H7,H8,H9];
const DXS = [DX0,DX1,DX2,DX3,DX4,DX5,DX6,DX7,DX8,DX9];
const DYS = [DY0,DY1,DY2,DY3,DY4,DY5,DY6,DY7,DY8,DY9];

// layout
const N = VARS.length;
const PL = 87.3, PT = 83.4, PW = 86, PH = 82.7, GX = 100, GY = 97.3;
const FONT = 'Liberation Sans';
const grids = [], xAxes = [], yAxes = [], series = [];

function fmtCorr(v){ return (v < 0 ? '\u2212' : '') + Math.abs(v).toFixed(2); }

// rug values per variable, gathered from every panel that uses it
function rugValues(v){
  const seen = new Set(), out = [];
  Object.keys(LOWER).forEach(key => {
    const [r, c] = key.split('_').map(Number);
    LOWER[key].forEach(p => {
      let val = null;
      if (c - 1 === v) val = p[0]; else if (r - 1 === v) val = p[1];
      if (val !== null) { const q = Math.round(val*20); if (!seen.has(q)) { seen.add(q); out.push(val); } }
    });
  });
  return out;
}

for (let i = 0; i < N; i++) {
  for (let j = 0; j < N; j++) {
    const k = grids.length;
    grids.push({left: PL + GX*j, top: PT + GY*i, width: PW, height: PH, show: true,
      borderColor: '#333', borderWidth: 1.3, backgroundColor: 'rgba(0,0,0,0)'});
    const showBottom = (i === N-1 && j % 2 === 0);
    const showTop = (i === 0 && j % 2 === 1);
    const showLeft = (j === 0 && i % 2 === 1);
    const showRight = (j === N-1 && i % 2 === 0);
    const hx = showBottom || showTop, vy = showLeft || showRight;
    xAxes.push({gridIndex: k, type: 'value', min: AXIS_MIN[j], max: AXIS_MAX[j],
      position: showTop ? 'top' : 'bottom',
      axisLine: {show: false}, splitLine: {show: false},
      axisTick: {show: hx, length: 7, customValues: TICKS[j], lineStyle: {color: '#333', width: 1}},
      axisLabel: {show: hx, customValues: LABELS_H[j], margin: 13, fontSize: 11, color: '#222', fontFamily: FONT}});
    const diag = (i === j);
    yAxes.push({gridIndex: k, type: 'value', min: diag ? 0 : AXIS_MIN[i], max: diag ? 1.5 : AXIS_MAX[i],
      position: showRight ? 'right' : 'left',
      axisLine: {show: false}, splitLine: {show: false},
      axisTick: {show: vy, length: 7, customValues: TICKS[i], lineStyle: {color: '#333', width: 1}},
      axisLabel: {show: vy, customValues: LABELS_V[i], rotate: 90, margin: 13, fontSize: 11, color: '#222', fontFamily: FONT}});

    const midX = (AXIS_MIN[j] + AXIS_MAX[j]) / 2;
    if (i > j) {
      const pts = LOWER[(i+1) + '_' + (j+1)];
      const ln = LINES[i][j];
      series.push({type: 'line', xAxisIndex: k, yAxisIndex: k, clip: true, showSymbol: false, silent: true,
        data: [[AXIS_MIN[j], ln[0]], [AXIS_MAX[j], ln[1]]],
        lineStyle: {color: '#2f8ccc', width: 1.2}, z: 2});
      series.push({type: 'scatter', xAxisIndex: k, yAxisIndex: k, data: pts, symbolSize: 5.5,
        itemStyle: {color: '#000'}, silent: true, z: 3});
    } else if (i < j) {
      const midY = (AXIS_MIN[i] + AXIS_MAX[i]) / 2;
      series.push({type: 'scatter', xAxisIndex: k, yAxisIndex: k, data: [[midX, midY]], symbolSize: 0, silent: true,
        label: {show: true, position: 'inside', formatter: fmtCorr(CORR[i][j-i-1]), fontSize: 23, color: '#111', fontFamily: FONT}});
    } else {
      const h = HISTS[i], st = HIST_START[i], w = HIST_STEP[i];
      const bars = h.map((v, b) => [st + b*w, st + (b+1)*w, v]).filter(d => d[2] > 0);
      series.push({type: 'custom', xAxisIndex: k, yAxisIndex: k, clip: true, silent: true, data: bars,
        encode: {x: [0, 1], y: 2},
        renderItem: (params, api) => {
          const p0 = api.coord([api.value(0), 0]);
          const p1 = api.coord([api.value(1), api.value(2)]);
          return {type: 'rect', shape: {x: p0[0], y: p1[1], width: p1[0]-p0[0], height: p0[1]-p1[1]},
            style: {fill: '#2b8cc4', stroke: '#1b1b1b', lineWidth: 0.8}};
        }});
      const rug = rugValues(i).map(v => [v]);
      series.push({type: 'custom', xAxisIndex: k, yAxisIndex: k, clip: true, silent: true, data: rug,
        encode: {x: 0},
        renderItem: (params, api) => {
          const p0 = api.coord([api.value(0), 0]);
          const p1 = api.coord([api.value(0), 0.045]);
          return {type: 'line', shape: {x1: p0[0], y1: p0[1], x2: p1[0], y2: p1[1]}, style: {stroke: '#222', lineWidth: 0.7}};
        }});
      series.push({type: 'line', xAxisIndex: k, yAxisIndex: k, clip: true, showSymbol: false, silent: true, smooth: 0.35,
        data: DXS[i].map((x, t) => [x, DYS[i][t]]), lineStyle: {color: '#111', width: 1.1}});
      series.push({type: 'scatter', xAxisIndex: k, yAxisIndex: k, data: [[midX, 1.25]], symbolSize: 0, silent: true,
        label: {show: true, position: 'inside', formatter: VARS[i], fontSize: 12, color: '#222', fontFamily: FONT}});
    }
  }
}

const chart = echarts.init(document.getElementById('c'), null, {renderer: 'canvas'});
chart.setOption({
  animation: false,
  backgroundColor: '#fff',
  grid: grids, xAxis: xAxes, yAxis: yAxes, series: series,
  graphic: [
    {type: 'text', x: 580, y: 40, style: {text: 'Significant eQTL P-values for HLA-DRB1', font: 'bold 20px "Liberation Sans"', textAlign: 'center', textVerticalAlign: 'middle', fill: '#111'}},
    {type: 'text', x: 22, y: 42, style: {text: 'b', font: '30px "Liberation Serif"', textAlign: 'center', textVerticalAlign: 'middle', fill: '#111'}}
  ]
});
</script></body></html>
